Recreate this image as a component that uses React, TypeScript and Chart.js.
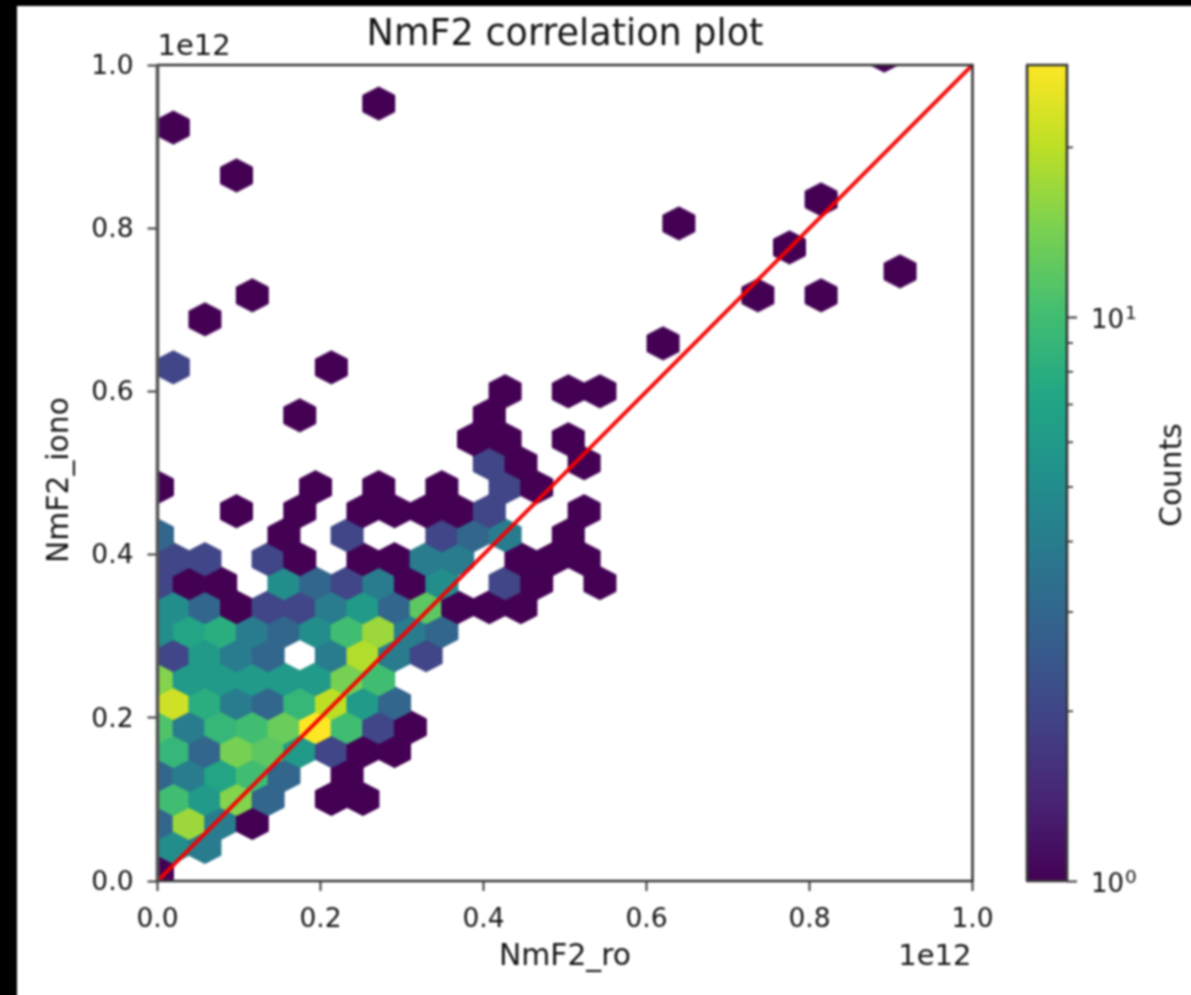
import React, { useEffect, useRef } from "react";
import { Chart, registerables } from "chart.js";

Chart.register(...registerables);

const hexX = [
  0,
  0.0194, 0.0582,
  0, 0.0388, 0.0775, 0.1163,
  0.0194, 0.0582, 0.0969, 0.1357, 0.2133, 0.252,
  0, 0.0388, 0.0775, 0.1163, 0.1551, 0.2326,
  0.0194, 0.0582, 0.0969, 0.1357, 0.1745, 0.2133, 0.252, 0.2908,
  0, 0.0388, 0.0775, 0.1163, 0.1551, 0.1939, 0.2326, 0.2714, 0.3102,
  0.0194, 0.0582, 0.0969, 0.1357, 0.1745, 0.2133, 0.252, 0.2908,
  0, 0.0388, 0.0775, 0.1163, 0.1551, 0.1939, 0.2326, 0.2714,
  0.0194, 0.0582, 0.0969, 0.1357, 0.2133, 0.252, 0.2908, 0.3296,
  0, 0.0388, 0.0775, 0.1163, 0.1551, 0.1939, 0.2326, 0.2714, 0.3102, 0.3489,
  0.0194, 0.0582, 0.0969, 0.1357, 0.1745, 0.2133, 0.252, 0.2908, 0.3296, 0.3683, 0.4071, 0.4459,
  0, 0.0388, 0.0775, 0.1551, 0.1939, 0.2326, 0.2714, 0.3102, 0.3489, 0.4265, 0.4652, 0.5428,
  0.0194, 0.0582, 0.1357, 0.1745, 0.252, 0.2908, 0.3296, 0.3683, 0.4459, 0.4846, 0.5234,
  0, 0.1551, 0.2326, 0.3489, 0.3877, 0.4265, 0.504,
  0.0969, 0.1745, 0.252, 0.2908, 0.3296, 0.3683, 0.4071, 0.5234,
  0, 0.1939, 0.2714, 0.3489, 0.4265, 0.4652,
  0.4071, 0.4459, 0.5234,
  0.3877, 0.4265, 0.504,
  0.1745, 0.4071,
  0.4265, 0.504, 0.5428,
  0.0194, 0.2133,
  0.6203,
  0.0582,
  0.1163, 0.7366, 0.8142,
  0.9111,
  0.7754,
  0.6397,
  0.8142,
  0.0969,
  0.0194,
  0.2714,
  0.8917,
];

const hexY = [
  0.0123,
  0.0417, 0.0417,
  0.0711, 0.0711, 0.0711, 0.0711,
  0.1005, 0.1005, 0.1005, 0.1005, 0.1005, 0.1005,
  0.1299, 0.1299, 0.1299, 0.1299, 0.1299, 0.1299,
  0.1593, 0.1593, 0.1593, 0.1593, 0.1593, 0.1593, 0.1593, 0.1593,
  0.1886, 0.1886, 0.1886, 0.1886, 0.1886, 0.1886, 0.1886, 0.1886, 0.1886,
  0.218, 0.218, 0.218, 0.218, 0.218, 0.218, 0.218, 0.218,
  0.2474, 0.2474, 0.2474, 0.2474, 0.2474, 0.2474, 0.2474, 0.2474,
  0.2768, 0.2768, 0.2768, 0.2768, 0.2768, 0.2768, 0.2768, 0.2768,
  0.3062, 0.3062, 0.3062, 0.3062, 0.3062, 0.3062, 0.3062, 0.3062, 0.3062, 0.3062,
  0.3356, 0.3356, 0.3356, 0.3356, 0.3356, 0.3356, 0.3356, 0.3356, 0.3356, 0.3356, 0.3356, 0.3356,
  0.365, 0.365, 0.365, 0.365, 0.365, 0.365, 0.365, 0.365, 0.365, 0.365, 0.365, 0.365,
  0.3944, 0.3944, 0.3944, 0.3944, 0.3944, 0.3944, 0.3944, 0.3944, 0.3944, 0.3944, 0.3944,
  0.4238, 0.4238, 0.4238, 0.4238, 0.4238, 0.4238, 0.4238,
  0.4532, 0.4532, 0.4532, 0.4532, 0.4532, 0.4532, 0.4532, 0.4532,
  0.4826, 0.4826, 0.4826, 0.4826, 0.4826, 0.4826,
  0.512, 0.512, 0.512,
  0.5413, 0.5413, 0.5413,
  0.5707, 0.5707,
  0.6001, 0.6001, 0.6001,
  0.6295, 0.6295,
  0.6589,
  0.6883,
  0.7177, 0.7177, 0.7177,
  0.7471,
  0.7765,
  0.8059,
  0.8353,
  0.8647,
  0.9234,
  0.9528,
  1.0116,
];

const hexCount = [
  1,
  5, 4,
  3, 17, 4, 1,
  10, 6, 15, 3, 1, 1,
  3, 4, 7, 10, 3, 1,
  9, 3, 14, 12, 6, 2, 1, 1,
  11, 4, 9, 10, 13, 28, 10, 2, 1,
  22, 8, 4, 3, 9, 20, 6, 3,
  15, 6, 6, 6, 6, 6, 14, 10,
  2, 6, 4, 3, 4, 19, 4, 2,
  5, 7, 8, 4, 3, 5, 10, 17, 4, 3,
  5, 3, 1, 2, 2, 4, 6, 3, 12, 1, 1, 1,
  2, 1, 1, 5, 3, 2, 4, 1, 5, 2, 1, 1,
  2, 2, 2, 1, 1, 1, 4, 4, 1, 1, 1,
  3, 1, 2, 2, 3, 4, 1,
  1, 1, 1, 1, 1, 1, 2, 1,
  1, 1, 1, 1, 2, 1,
  2, 1, 1,
  1, 1, 1,
  1, 1,
  1, 1, 1,
  2, 1,
  1,
  1,
  1, 1, 1,
  1,
  1,
  1,
  1,
  1,
  1,
  1,
  1,
];

const refLineX = [0, 1];
const refLineY = [0, 1];
const axisTicks = [0, 0.2, 0.4, 0.6, 0.8, 1.0];
const colorbarRange = [1, 28];
const colorbarMajor = [1, 10];
const colorbarExponents = ["0", "1"];
const colorbarMinor = [2, 3, 4, 5, 6, 7, 8, 9, 20];
const viridis = [
  "#440154", "#482475", "#414487", "#355f8d", "#2a788e", "#21918c",
  "#22a884", "#44bf70", "#7ad151", "#bddf26", "#fde725",
];

const FONT = "'DejaVu Sans'";
const INK = "#141414";
const SPINE = "#383838";

function hexToRgb(h: string) {
  return [1, 3, 5].map((i) => parseInt(h.slice(i, i + 2), 16));
}
function viridisAt(t: number) {
  const p = Math.max(0, Math.min(1, t)) * (viridis.length - 1);
  const i = Math.min(viridis.length - 2, Math.floor(p));
  const a = hexToRgb(viridis[i]);
  const b = hexToRgb(viridis[i + 1]);
  const f = p - i;
  return `rgb(${a.map((v, k) => Math.round(v + (b[k] - v) * f)).join(",")})`;
}

const hexCache: Record<number, HTMLCanvasElement> = {};
function hexImage(count: number) {
  if (hexCache[count]) return hexCache[count];
  const c = document.createElement("canvas");
  const w = 37;
  const h = 38;
  c.width = w;
  c.height = h;
  const g = c.getContext("2d")!;
  const t = Math.log10(count) / Math.log10(colorbarRange[1]);
  const col = viridisAt(t);
  g.fillStyle = col;
  g.strokeStyle = col;
  g.lineWidth = 1;
  g.lineJoin = "round";
  const hw = 16;
  const hh = 16.6;
  const cx = w / 2;
  const cy = h / 2;
  g.beginPath();
  g.moveTo(cx, cy - hh);
  g.lineTo(cx + hw, cy - hh / 2);
  g.lineTo(cx + hw, cy + hh / 2);
  g.lineTo(cx, cy + hh);
  g.lineTo(cx - hw, cy + hh / 2);
  g.lineTo(cx - hw, cy - hh / 2);
  g.closePath();
  g.fill();
  g.stroke();
  hexCache[count] = c;
  return c;
}

function spines(chart: any, leftWidth: number, leftColor: string) {
  const { ctx, chartArea: a } = chart;
  ctx.save();
  ctx.lineWidth = 2.6;
  ctx.strokeStyle = SPINE;
  ctx.beginPath();
  ctx.moveTo(a.left - 1, a.top);
  ctx.lineTo(a.right, a.top);
  ctx.lineTo(a.right, a.bottom);
  ctx.lineTo(a.left - 1, a.bottom);
  ctx.stroke();
  ctx.lineWidth = leftWidth;
  ctx.strokeStyle = leftColor;
  ctx.beginPath();
  ctx.moveTo(a.left, a.top);
  ctx.lineTo(a.left, a.bottom);
  ctx.stroke();
  ctx.restore();
}

function rotatedText(ctx: any, text: string, x: number, y: number, size: number) {
  ctx.save();
  ctx.translate(x, y);
  ctx.rotate(-Math.PI / 2);
  ctx.fillStyle = INK;
  ctx.font = `${size}px ${FONT}`;
  ctx.textAlign = "center";
  ctx.textBaseline = "alphabetic";
  ctx.fillText(text, 0, 0);
  ctx.restore();
}

const mainDecor = {
  id: "mainDecor",
  afterDraw(chart: any) {
    const { ctx, chartArea: a } = chart;
    spines(chart, 3.6, "#555555");
    ctx.save();
    ctx.fillStyle = INK;
    ctx.font = `29px ${FONT}`;
    ctx.textBaseline = "alphabetic";
    ctx.textAlign = "left";
    ctx.fillText("1e12", a.left, a.top - 10);
    ctx.textAlign = "right";
    ctx.fillText("1e12", a.right - 1, a.bottom + 84);
    ctx.restore();
    rotatedText(ctx, "NmF2_iono", 51, 474, 29.8);
  },
};

const barDecor = {
  id: "barDecor",
  afterDraw(chart: any) {
    const { ctx, chartArea: a } = chart;
    const s = chart.scales.y;
    spines(chart, 2.6, SPINE);
    ctx.save();
    ctx.strokeStyle = SPINE;
    ctx.lineWidth = 1.8;
    colorbarMinor.forEach((v) => {
      const y = s.getPixelForValue(v);
      ctx.beginPath();
      ctx.moveTo(a.right, y);
      ctx.lineTo(a.right + 6, y);
      ctx.stroke();
    });
    ctx.fillStyle = INK;
    ctx.textBaseline = "alphabetic";
    ctx.textAlign = "left";
    colorbarMajor.forEach((v, i) => {
      const y = s.getPixelForValue(v);
      ctx.font = `26px ${FONT}`;
      ctx.fillText("10", 91, y + 11);
      const w = ctx.measureText("10").width;
      ctx.font = `18.5px ${FONT}`;
      ctx.fillText(colorbarExponents[i], 91 + w + 1, y + 2);
    });
    ctx.restore();
    rotatedText(ctx, "Counts", 181, 469, 29.6);
  },
};

export default function App() {
  const mainRef = useRef<HTMLCanvasElement | null>(null);
  const barRef = useRef<HTMLCanvasElement | null>(null);

  useEffect(() => {
    const axis = (fit: (s: any) => void, padding: number, labelOffset: number, title: any) => ({
      type: "linear",
      min: 0,
      max: 1,
      afterBuildTicks: (s: any) => {
        s.ticks = axisTicks.map((value) => ({ value }));
      },
      afterFit: fit,
      grid: {
        display: true,
        drawOnChartArea: false,
        drawTicks: true,
        tickLength: 10,
        tickWidth: 2,
        tickColor: SPINE,
      },
      border: { display: false },
      ticks: {
        color: INK,
        font: { family: FONT, size: 26.5 },
        padding,
        labelOffset,
        autoSkip: false,
        maxRotation: 0,
        callback: (v: any) => Number(v).toFixed(1),
      },
      title,
    });

    const main = new Chart(mainRef.current!, {
      type: "scatter",
      data: {
        datasets: [
          {
            type: "line",
            data: refLineX.map((x, i) => ({ x, y: refLineY[i] })),
            borderColor: "rgba(245,0,0,0.95)",
            borderWidth: 4,
            pointRadius: 0,
            order: 0,
            parsing: false,
          },
          {
            type: "scatter",
            data: hexX.map((x, i) => ({ x, y: hexY[i] })),
            pointStyle: (c: any) => hexImage(hexCount[c.dataIndex] ?? 1),
            pointRadius: 18,
            order: 1,
            parsing: false,
          },
        ],
      } as any,
      options: {
        responsive: false,
        animation: false,
        layout: { padding: { right: 218.5, left: 0, top: 0, bottom: 0 } },
        plugins: {
          legend: { display: false },
          tooltip: { enabled: false },
          title: {
            display: true,
            text: "NmF2 correlation plot",
            color: INK,
            fullSize: false,
            font: { family: FONT, size: 36.6, weight: "normal" },
            padding: { top: 8, bottom: 7.1 },
          },
        },
        scales: {
          x: axis((s: any) => { s.height = 114; }, 13, 0, {
            display: true,
            text: "NmF2_ro",
            color: INK,
            font: { family: FONT, size: 29.8 },
            padding: { bottom: 20, top: 0 },
          }),
          y: axis((s: any) => { s.width = 140.5; }, 14, 2, { display: false }),
        },
      } as any,
      plugins: [mainDecor],
    });

    const bar = new Chart(barRef.current!, {
      type: "bar",
      data: {
        labels: ["Counts"],
        datasets: [
          {
            data: [colorbarRange],
            barPercentage: 1,
            categoryPercentage: 1,
            backgroundColor: (c: any) => {
              const a = c.chart.chartArea;
              if (!a) return viridis[0];
              const g = c.chart.ctx.createLinearGradient(0, a.bottom, 0, a.top);
              viridis.forEach((col, i) => g.addColorStop(i / (viridis.length - 1), col));
              return g;
            },
          },
        ],
      },
      options: {
        responsive: false,
        animation: false,
        layout: { padding: { left: 27, top: 59, bottom: 114, right: 0 } },
        plugins: { legend: { display: false }, tooltip: { enabled: false } },
        scales: {
          x: { display: false },
          y: {
            type: "logarithmic",
            position: "right",
            min: colorbarRange[0],
            max: colorbarRange[1],
            afterBuildTicks: (s: any) => {
              s.ticks = colorbarMajor.map((value) => ({ value }));
            },
            afterFit: (s: any) => { s.width = 124; },
            grid: {
              display: true,
              drawOnChartArea: false,
              drawTicks: true,
              tickLength: 10,
              tickWidth: 2,
              tickColor: SPINE,
            },
            border: { display: false },
            ticks: { display: false },
            title: { display: false },
          },
        },
      } as any,
      plugins: [barDecor],
    });

    return () => {
      main.destroy();
      bar.destroy();
    };
  }, []);

  return (
    <div style={{ position: "fixed", inset: 0, background: "#000", overflow: "hidden" }}>
      <div style={{ position: "absolute", left: 17, top: 6, width: 1210, height: 1020, background: "#fff", filter: "blur(0.8px)" }}>
        <canvas ref={mainRef} width={1174} height={989} style={{ position: "absolute", left: 0, top: 0, display: "block" }} />
        <canvas ref={barRef} width={191} height={989} style={{ position: "absolute", left: 983, top: 0, display: "block" }} />
      </div>
    </div>
  );
}
